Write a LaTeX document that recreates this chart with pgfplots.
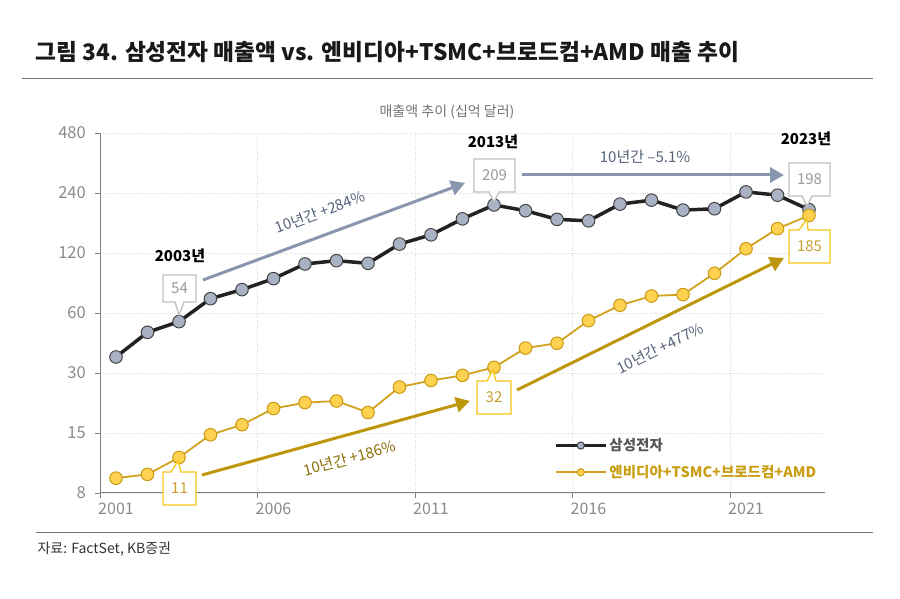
\documentclass[border=0pt]{standalone}
\usepackage{pgfplots}
\pgfplotsset{compat=1.18}
\usepackage{pgfplotstable}
\usepackage{fontspec}
\setmainfont{Noto Sans CJK KR}
\usetikzlibrary{arrows.meta}
\definecolor{samline}{HTML}{222222}
\definecolor{samfill}{HTML}{A9B2C4}
\definecolor{goldline}{HTML}{D2A21E}
\definecolor{goldfill}{HTML}{FFD150}
\definecolor{goldedge}{HTML}{C99A12}
\definecolor{arrowblue}{HTML}{8897AE}
\definecolor{slatetext}{HTML}{56627A}
\definecolor{goldarrow}{HTML}{BE960C}
\definecolor{goldtext}{HTML}{8C6D05}
\definecolor{boxgray}{HTML}{C0C0C0}
\definecolor{numgray}{HTML}{9A9A9A}
\definecolor{boxgold}{HTML}{F5C518}
\definecolor{numgold}{HTML}{C9A030}
\definecolor{ticktext}{HTML}{8A8A8A}
\definecolor{gridc}{HTML}{DADADA}
\definecolor{axisc}{HTML}{808080}
\definecolor{legsam}{HTML}{555555}
\definecolor{leggold}{HTML}{C99E12}

\pgfplotstableread{
year sam chip
2001 36.1 8.9
2002 48.0 9.3
2003 54.3 11.3
2004 70.8 14.7
2005 78.6 16.5
2006 89.2 19.9
2007 105.7 21.3
2008 109.8 21.7
2009 106.5 19.0
2010 133 25.5
2011 148 27.5
2012 178 29.2
2013 209 32.0
2014 195.6 40.0
2015 177 42.3
2016 174 54.9
2017 211 65.6
2018 221 73
2019 197 74.2
2020 200 94.9
2021 243 126
2022 234 159
2023 198 185
}\datatable

\begin{document}
\begin{tikzpicture}[x=1pt,y=1pt]
\path[use as bounding box] (0,0) rectangle (900,599);
\begin{axis}[
  at={(100.25pt,106pt)}, anchor=south west,
  scale only axis, width=724.5pt, height=360pt,
  xmin=2000.5, xmax=2023.5,
  ymode=log, log basis y=2,
  ymin=7.5, ymax=480,
  clip=false,
  axis x line*=bottom, axis y line*=left,
  axis line style={-, axisc, line width=1pt},
  every inner x axis line/.append style={-},
  every inner y axis line/.append style={-},
  xtick={2000.5,2005.5,2010.5,2015.5,2020.5},
  xticklabels={2001,2006,2011,2016,2021},
  ytick={7.5,15,30,60,120,240,480},
  yticklabels={8,15,30,60,120,240,480},
  tick align=outside, major tick length=5pt,
  tick style={axisc, line width=0.8pt},
  xticklabel style={xshift=15.75pt, yshift=-1pt, font=\fontsize{16}{18}\selectfont, color=ticktext},
  yticklabel style={xshift=-6pt, font=\fontsize{16.5}{18}\selectfont, color=ticktext},
  /pgf/number format/assume math mode=true,
  grid=major, major grid style={gridc, dotted, line width=0.9pt},
  legend image code/.code={
    \draw[#1, mark repeat=2, mark phase=2, mark size=3.6pt] plot coordinates {(0pt,0pt) (25pt,0pt) (50pt,0pt)};
  },
  legend style={at={(axis description cs:0.626,0.157)}, anchor=north west, draw=none, fill=none,
    font=\bfseries\fontsize{14.5}{18}\selectfont, row sep=9pt, inner sep=0pt},
  legend cell align=left,
]
\addplot[samline, line width=3.5pt, mark=*, mark size=6.3pt,
  mark options={fill=samfill, draw=samline!85, line width=1pt}]
  table[x=year,y=sam]{\datatable};
\addlegendentry{\textcolor{legsam}{삼성전자}}
\addplot[goldline, line width=1.8pt, mark=*, mark size=6.3pt,
  mark options={fill=goldfill, draw=goldedge, line width=1pt}]
  table[x=year,y=chip]{\datatable};
\addlegendentry{\textcolor{leggold}{엔비디아+TSMC+브로드컴+AMD}}
\end{axis}

% title and frame
\node[anchor=west, font=\bfseries\fontsize{22.7}{26}\selectfont, color=black!90] at (32,{599-52}) {그림 34. 삼성전자 매출액 vs. 엔비디아+TSMC+브로드컴+AMD 매출 추이};
\draw[black!55, line width=1pt] (22,{599-79}) -- (873,{599-79});
\node[font=\fontsize{14}{16}\selectfont, color=black!55] at (447,{599-112}) {매출액 추이 (십억 달러)};
\draw[black!55, line width=1pt] (36,{599-533}) -- (873,{599-533});
\node[anchor=west, font=\fontsize{14}{16}\selectfont, color=black!80] at (34,{599-549}) {자료: FactSet, KB증권};

% arrows
\draw[arrowblue, line width=3pt, -{Triangle[length=14pt,width=15pt]}] (203,{599-280}) -- (465,{599-183});
\node[slatetext, rotate=20.3, font=\fontsize{15}{18}\selectfont] at (320,{599-212}) {10년간 +284\%};
\draw[arrowblue, line width=3pt, -{Triangle[length=14pt,width=15pt]}] (522,{599-175}) -- (784,{599-175});
\node[slatetext, font=\fontsize{15}{18}\selectfont] at (645,{599-157}) {10년간 –5.1\%};
\draw[goldarrow, line width=3pt, -{Triangle[length=14pt,width=15pt]}] (202,{599-475}) -- (470,{599-401});
\node[goldtext, rotate=15.3, font=\fontsize{15}{18}\selectfont] at (350,{599-458}) {10년간 +186\%};
\draw[goldarrow, line width=3pt, -{Triangle[length=14pt,width=15pt]}] (517,{599-390}) -- (784,{599-258});
\node[slatetext, rotate=26.3, font=\fontsize{15}{18}\selectfont] at (660,{599-348}) {10년간 +477\%};

% year labels
\node[font=\bfseries\fontsize{15}{18}\selectfont] at (180,{599-256}) {2003년};
\node[font=\bfseries\fontsize{15}{18}\selectfont] at (493,{599-142}) {2013년};
\node[font=\bfseries\fontsize{15}{18}\selectfont] at (806,{599-139}) {2023년};

% callouts
\filldraw[fill=white, draw=boxgray, line width=1.3pt] (163,{599-275}) -- (196,{599-275}) -- (196,{599-302}) -- (184,{599-302}) -- (179,{599-315}) -- (175,{599-302}) -- (163,{599-302}) -- cycle;
\node[numgray, font=\fontsize{15}{18}\selectfont] at (179.5,{599-288.5}) {54};
\filldraw[fill=white, draw=boxgray, line width=1.3pt] (474,{599-159}) -- (515,{599-159}) -- (515,{599-192}) -- (499,{599-192}) -- (494,{599-202}) -- (489,{599-192}) -- (474,{599-192}) -- cycle;
\node[numgray, font=\fontsize{15}{18}\selectfont] at (494.5,{599-175.5}) {209};
\filldraw[fill=white, draw=boxgray, line width=1.3pt] (789,{599-163}) -- (830,{599-163}) -- (830,{599-196}) -- (812,{599-196}) -- (807,{599-206}) -- (802,{599-196}) -- (789,{599-196}) -- cycle;
\node[numgray, font=\fontsize{15}{18}\selectfont] at (809.5,{599-179.5}) {198};
\filldraw[fill=white, draw=boxgold, line width=1.3pt] (789,{599-263}) -- (830,{599-263}) -- (830,{599-230}) -- (808,{599-230}) -- (807,{599-219}) -- (799,{599-230}) -- (789,{599-230}) -- cycle;
\node[numgold, font=\fontsize{15}{18}\selectfont] at (809.5,{599-246.5}) {185};
\filldraw[fill=white, draw=boxgold, line width=1.3pt] (163,{599-505}) -- (196,{599-505}) -- (196,{599-472}) -- (181,{599-472}) -- (178,{599-461}) -- (171,{599-472}) -- (163,{599-472}) -- cycle;
\node[numgold, font=\fontsize{15}{18}\selectfont] at (179.5,{599-488.5}) {11};
\filldraw[fill=white, draw=boxgold, line width=1.3pt] (477,{599-414}) -- (511,{599-414}) -- (511,{599-381}) -- (496,{599-381}) -- (493,{599-370}) -- (487,{599-381}) -- (477,{599-381}) -- cycle;
\node[numgold, font=\fontsize{15}{18}\selectfont] at (494,{599-397.5}) {32};
\end{tikzpicture}
\end{document}
